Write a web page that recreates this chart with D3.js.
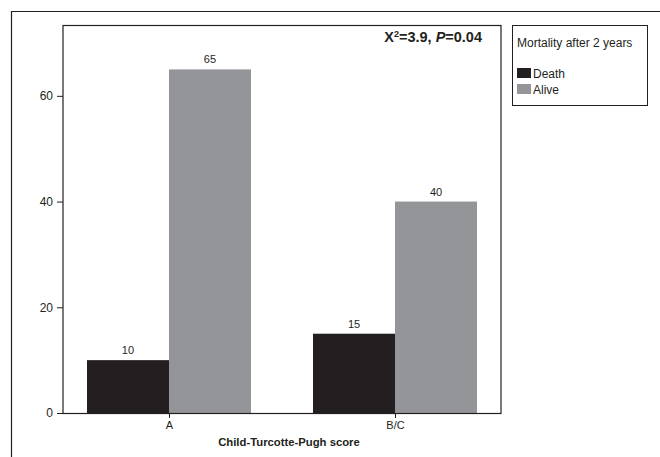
<!DOCTYPE html>
<html><head><meta charset="utf-8">
<script src="https://cdn.jsdelivr.net/npm/d3@7/dist/d3.min.js"></script>
<style>
html,body{margin:0;padding:0;background:#fff;}
svg{display:block;font-family:"Liberation Sans",Arial,sans-serif;}
</style></head>
<body><svg id="chart" width="660" height="457"></svg>
<script>
const categories = ["A", "B/C"];
const seriesNames = ["Death", "Alive"];
const deathValues = [10, 15];
const aliveValues = [65, 40];
const yTicks = [0, 20, 40, 60];
const xTitle = "Child-Turcotte-Pugh score";
const legendTitle = "Mortality after 2 years";
const colors = ["#231f20", "#939598"];
const ink = "#231f20";

const svg = d3.select("#chart");
const L = 63, R = 501, T = 25, B = 413;

// outer frame (left and top only visible)
svg.append("path").attr("d", "M11.5,457 V11.5 H660")
  .attr("fill", "none").attr("stroke", ink).attr("stroke-width", 1.2);

const y = d3.scaleLinear().domain([0, 73.4]).range([B, T]);
const x = d3.scalePoint().domain(categories).range([L, R]).padding(0.469);
const xs = d3.scaleBand().domain(seriesNames).range([-82, 82]).padding(0);

const data = categories.map((c, i) => ({cat: c, vals: [
  {s: seriesNames[0], v: deathValues[i]},
  {s: seriesNames[1], v: aliveValues[i]}]}));

const g = svg.append("g");
data.forEach(d => {
  d.vals.forEach((e, j) => {
    g.append("rect")
      .attr("x", x(d.cat) + xs(e.s))
      .attr("y", y(e.v))
      .attr("width", xs.bandwidth())
      .attr("height", y(0) - y(e.v))
      .attr("fill", colors[j]);
    g.append("text")
      .attr("x", x(d.cat) + xs(e.s) + xs.bandwidth() / 2)
      .attr("y", y(e.v) - 6)
      .attr("text-anchor", "middle")
      .attr("font-size", 11).attr("fill", ink)
      .text(e.v);
  });
});

// plot frame
svg.append("rect").attr("x", L).attr("y", T + 0.5).attr("width", R - L).attr("height", B - T)
  .attr("fill", "none").attr("stroke", ink).attr("stroke-width", 1.2);

// y axis
const yAxis = svg.append("g").attr("transform", `translate(${L},0)`)
  .call(d3.axisLeft(y).tickValues(yTicks).tickSize(6).tickPadding(4));
yAxis.select(".domain").remove();
yAxis.selectAll("line").attr("stroke", ink);
yAxis.selectAll("text").attr("font-size", 12).attr("fill", ink)
  .attr("font-family", "'Liberation Sans',Arial,sans-serif");

// x axis
const xAxis = svg.append("g").attr("transform", `translate(0,${B})`)
  .call(d3.axisBottom(x).tickSize(5).tickPadding(3));
xAxis.select(".domain").remove();
xAxis.selectAll("line").attr("stroke", ink);
xAxis.selectAll("text").attr("font-size", 11).attr("fill", ink)
  .attr("font-family", "'Liberation Sans',Arial,sans-serif");

svg.append("text").attr("x", 289).attr("y", 446).attr("text-anchor", "middle")
  .attr("font-size", 11.3).attr("font-weight", "bold").attr("fill", ink).text(xTitle);

// statistic annotation
const st = svg.append("text").attr("x", 482).attr("y", 42).attr("text-anchor", "end")
  .attr("font-size", 14.5).attr("font-weight", "bold").attr("fill", ink);
st.append("tspan").text("X");
st.append("tspan").attr("font-size", 9).attr("dy", -5).text("2");
st.append("tspan").attr("dy", 5).text("=3.9, ");
st.append("tspan").attr("font-style", "italic").text("P");
st.append("tspan").text("=0.04");

// legend
const lg = svg.append("g");
lg.append("rect").attr("x", 512.5).attr("y", 25.5).attr("width", 135).attr("height", 80)
  .attr("fill", "#fff").attr("stroke", ink).attr("stroke-width", 1);
lg.append("text").attr("x", 517).attr("y", 47).attr("font-size", 12).attr("fill", ink).text(legendTitle);
seriesNames.forEach((s, i) => {
  lg.append("rect").attr("x", 517).attr("y", 68 + i * 16).attr("width", 14).attr("height", 10).attr("fill", colors[i]);
  lg.append("text").attr("x", 533).attr("y", 77.5 + i * 16).attr("font-size", 12).attr("fill", ink).text(s);
});
</script></body></html>
